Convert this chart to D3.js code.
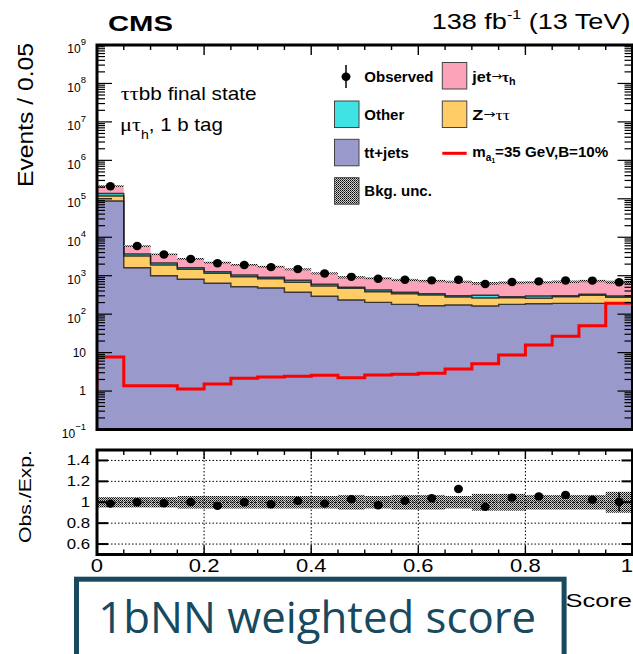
<!DOCTYPE html>
<html><head><meta charset="utf-8">
<script src="https://cdn.jsdelivr.net/npm/d3@7"></script>
<style>
html,body{margin:0;padding:0;background:#fff;}
svg{display:block;font-family:"Liberation Sans",Arial,Helvetica,sans-serif;}
</style></head>
<body><svg id="c" width="633" height="654"></svg>
<script>
// ---- data: 20 bins of the 1bNN score, width 0.05 ----
const binLow = [0.00,0.05,0.10,0.15,0.20,0.25,0.30,0.35,0.40,0.45,0.50,0.55,0.60,0.65,0.70,0.75,0.80,0.85,0.90,0.95];
const binWidth = 0.05;
const ttJets  = [87700,1615,1000,806,634,518,479,370,291,233,203,180,166,173,163,180,187,191,191,191];
const zTauTau = [30600,1636,897,661,520,424,351,303,249,237,181,160,149,106,100,88,71,93,118,83];
const otherBkg= [19100,416,243,148,117,100,84,86,57,29,41,30,25,23,46,16,39,18,19,23];
const jetFakes= [77900,2251,1463,1103,907,855,789,708,557,409,430,403,388,396,325,374,376,396,400,376];
const observed= [212500,5918,3567,2726,2102,1897,1671,1486,1139,934,830,783,756,787,606,687,711,747,746,675];
const bkgUnc  = [0.05,0.05,0.05,0.06,0.06,0.06,0.06,0.06,0.06,0.07,0.06,0.07,0.07,0.06,0.08,0.08,0.07,0.07,0.07,0.10];
const ratioErr= [0.02,0.02,0.02,0.02,0.02,0.02,0.02,0.02,0.02,0.02,0.02,0.02,0.02,0.03,0.02,0.02,0.02,0.02,0.02,0.09];
const signal  = [7.7,1.38,1.38,1.13,1.52,2.15,2.32,2.42,2.57,2.22,2.61,2.72,2.9,3.74,5.14,8.7,15.8,26.5,50,191];
const signalStart = 1.0;
const yExponents = [-1,0,1,2,3,4,5,6,7,8,9];
const ratioTicks = [0.6,0.8,1.0,1.2,1.4];
const xTicks = [0,0.2,0.4,0.6,0.8,1];
const xTickLabels = ["0","0.2","0.4","0.6","0.8","1"];

const colors = {tt:"#9999cc", z:"#ffcc66", other:"#3fe3e3", jet:"#fca3b9", sig:"#ff0000"};

const svg = d3.select("#c");
const X0 = 97, X1 = 632.5;
const x  = d3.scaleLinear().domain([0,1]).range([X0,X1]);
const y  = d3.scaleLog().domain([0.1,1e9]).range([429.5,45]);
const yr = d3.scaleLinear().domain([0.5,1.5]).range([554.5,450]);

// fill pattern for the background uncertainty
const defs = svg.append("defs");
const pat = defs.append("pattern").attr("id","unc").attr("width",2).attr("height",2).attr("patternUnits","userSpaceOnUse");
pat.append("rect").attr("width",2).attr("height",2).attr("fill","#d0d0d0");
pat.append("rect").attr("x",0).attr("y",0).attr("width",1).attr("height",1).attr("fill","#000");
pat.append("rect").attr("x",1).attr("y",1).attr("width",1).attr("height",1).attr("fill","#444");
defs.append("clipPath").attr("id","mainClip").append("rect").attr("x",X0).attr("y",45).attr("width",X1-X0).attr("height",429.5-45);

// ---- stacked backgrounds ----
const rows = binLow.map((b,i)=>({b, tt:ttJets[i], z:zTauTau[i], other:otherBkg[i], jet:jetFakes[i]}));
const keys = ["tt","z","other","jet"];
const stacked = d3.stack().keys(keys)(rows);
const totals = rows.map(r=>r.tt+r.z+r.other+r.jet);

function stepPoints(vals){
  const pts=[];
  vals.forEach((v,i)=>{ pts.push({x:x(binLow[i]),v}); pts.push({x:x(binLow[i]+binWidth),v}); });
  return pts;
}
const yc = v => y(Math.max(v,0.1));

const gMain = svg.append("g").attr("clip-path","url(#mainClip)");
stacked.forEach((layer,li)=>{
  const pts=[];
  layer.forEach((d,i)=>{
    pts.push({x:x(binLow[i]),lo:d[0],hi:d[1]});
    pts.push({x:x(binLow[i]+binWidth),lo:d[0],hi:d[1]});
  });
  gMain.append("path")
    .attr("d", d3.area().x(p=>p.x).y0(p=>yc(p.lo)).y1(p=>yc(p.hi))(pts))
    .attr("fill", colors[keys[li]]);
});
stacked.forEach((layer,li)=>{
  if(li===3) return;
  gMain.append("path")
    .attr("d", d3.line().x(p=>p.x).y(p=>yc(p.v))(stepPoints(layer.map(d=>d[1]))))
    .attr("fill","none").attr("stroke","#1e1e1e").attr("stroke-width",1.4).attr("stroke-opacity",0.85);
});

// uncertainty band on top of the stack
gMain.selectAll("rect.unc").data(totals).join("rect").attr("class","unc")
  .attr("x",(d,i)=>x(binLow[i])).attr("width",x(binWidth)-x(0))
  .attr("y",(d,i)=>y(d*(1+bkgUnc[i]))).attr("height",(d,i)=>y(d*(1-bkgUnc[i]))-y(d*(1+bkgUnc[i])))
  .attr("fill","url(#unc)");

// signal hypothesis
const sigPts = [{x:x(0),v:signalStart}].concat(stepPoints(signal));
gMain.append("path")
  .attr("d", d3.line().x(p=>p.x).y(p=>y(p.v))(sigPts))
  .attr("fill","none").attr("stroke",colors.sig).attr("stroke-width",3);

// observed data
svg.append("g").selectAll("ellipse").data(observed).join("ellipse")
  .attr("cx",(d,i)=>x(binLow[i]+binWidth/2)).attr("cy",d=>y(d))
  .attr("rx",4.5).attr("ry",4.2).attr("fill","#000");

// ---- main frame and ticks ----
const ax = svg.append("g").attr("stroke","#000").attr("fill","none");
yExponents.forEach(e=>{
  for(let m=1;m<=9;m++){
    const v=m*Math.pow(10,e);
    if(v<0.1||v>1e9) continue;
    const L = m===1?15:8, yy=y(v);
    ax.append("line").attr("x1",X0).attr("x2",X0+L).attr("y1",yy).attr("y2",yy).attr("stroke-width",1.2);
    ax.append("line").attr("x1",X1).attr("x2",X1-L).attr("y1",yy).attr("y2",yy).attr("stroke-width",1.2);
  }
});
for(let k=0;k<=20;k++){
  const xx=x(k*0.05), L=k%4===0?10:5;
  ax.append("line").attr("x1",xx).attr("x2",xx).attr("y1",45).attr("y2",45+L).attr("stroke-width",1.4);
}
ax.append("rect").attr("x",X0).attr("y",45).attr("width",X1-X0).attr("height",429.5-45).attr("stroke-width",3);

// y tick labels (10^n)
const yl = svg.append("g").attr("font-size",12).attr("text-anchor","end").attr("fill","#000");
yExponents.forEach(e=>{
  const yy=y(Math.pow(10,e));
  if(e===0||e===1){
    yl.append("text").attr("x",86).attr("y",yy+4.3).text(e===0?"1":"10");
  } else {
    const t=yl.append("text").attr("x",86).attr("y",yy+8.4);
    t.append("tspan").text("10");
    t.append("tspan").attr("font-size",9.5).attr("dy",-8.4).text(e<0?"\u2212"+(-e):String(e));
  }
});

// ---- ratio panel ----
const gR = svg.append("g");
gR.selectAll("rect.band").data(bkgUnc).join("rect").attr("class","band")
  .attr("x",(d,i)=>x(binLow[i])).attr("width",x(binWidth)-x(0))
  .attr("y",d=>yr(1+d)).attr("height",d=>yr(1-d)-yr(1+d)).attr("fill","url(#unc)");
const grid = gR.append("g").attr("stroke","#000").attr("stroke-width",1).attr("stroke-dasharray","1.5,2");
ratioTicks.forEach(t=>grid.append("line").attr("x1",X0).attr("x2",X1).attr("y1",yr(t)).attr("y2",yr(t)));
xTicks.slice(1,-1).forEach(t=>grid.append("line").attr("x1",x(t)).attr("x2",x(t)).attr("y1",450).attr("y2",554.5));

const ratio = observed.map((o,i)=>o/totals[i]);
gR.selectAll("line.err").data(ratio).join("line").attr("class","err")
  .attr("x1",(d,i)=>x(binLow[i]+binWidth/2)).attr("x2",(d,i)=>x(binLow[i]+binWidth/2))
  .attr("y1",(d,i)=>yr(d+ratioErr[i])).attr("y2",(d,i)=>yr(d-ratioErr[i]))
  .attr("stroke","#000").attr("stroke-width",1.5);
gR.selectAll("ellipse").data(ratio).join("ellipse")
  .attr("cx",(d,i)=>x(binLow[i]+binWidth/2)).attr("cy",d=>yr(d))
  .attr("rx",4.5).attr("ry",4.2).attr("fill","#000");

const axR = svg.append("g").attr("stroke","#000").attr("fill","none");
for(let k=0;k<=20;k++){
  const xx=x(k*0.05), L=k%4===0?9:5;
  axR.append("line").attr("x1",xx).attr("x2",xx).attr("y1",450).attr("y2",450+L).attr("stroke-width",1.4);
  axR.append("line").attr("x1",xx).attr("x2",xx).attr("y1",554.5).attr("y2",554.5-L).attr("stroke-width",1.4);
}
ratioTicks.forEach(t=>{
  axR.append("line").attr("x1",X0).attr("x2",X0+11).attr("y1",yr(t)).attr("y2",yr(t)).attr("stroke-width",2);
  axR.append("line").attr("x1",X1).attr("x2",X1-11).attr("y1",yr(t)).attr("y2",yr(t)).attr("stroke-width",2);
});
axR.append("rect").attr("x",X0).attr("y",450).attr("width",X1-X0).attr("height",104.5).attr("stroke-width",3);

function stretch(t,k){
  const ax0=+t.attr("x")||0;
  t.attr("transform",`translate(${ax0},0) scale(${k},1) translate(${-ax0},0)`);
}
function fitX(t,w){
  const bw=t.node().getBBox().width;
  stretch(t,w/bw);
}

ratioTicks.forEach(t=>{
  const s=svg.append("text").attr("x",90).attr("y",yr(t)+5).attr("text-anchor","end").attr("font-size",14)
    .text(t===1?"1":d3.format(".1f")(t));
  stretch(s,1.2);
});
xTicks.forEach((t,i)=>{
  const last = i===xTicks.length-1;
  const s=svg.append("text").attr("x",last?633:x(t)).attr("y",571.7)
    .attr("text-anchor",last?"end":"middle").attr("font-size",18.5).text(xTickLabels[i]);
  stretch(s,1.19);
});

// axis titles
const xt = svg.append("text").attr("x",632).attr("y",607).attr("text-anchor","end").attr("font-size",19).text("Score");
stretch(xt,1.34);
const gy = svg.append("g").attr("transform","translate(33,43) rotate(-90)");
const yt = gy.append("text").attr("x",0).attr("y",0).attr("text-anchor","end").attr("font-size",22).text("Events / 0.05");
fitX(yt,144);
const gy2 = svg.append("g").attr("transform","translate(31.4,450) rotate(-90)");
const yt2 = gy2.append("text").attr("x",0).attr("y",0).attr("text-anchor","end").attr("font-size",17).text("Obs./Exp.");
fitX(yt2,93);

// header
const cms = svg.append("text").attr("x",108).attr("y",30.7).attr("font-size",22).attr("font-weight","bold").text("CMS");
fitX(cms,65);
const lumi = svg.append("text").attr("x",630.5).attr("y",29.3).attr("text-anchor","end").attr("font-size",22);
lumi.append("tspan").text("138 fb");
lumi.append("tspan").attr("font-size",13).attr("dy",-10).text("-1");
lumi.append("tspan").attr("dy",10).text(" (13 TeV)");
fitX(lumi,199);

// channel labels
const serif = '"Liberation Serif","DejaVu Serif",serif';
const c1 = svg.append("text").attr("x",120.7).attr("y",100).attr("font-size",17.5);
c1.append("tspan").attr("font-family",serif).attr("font-size",19).text("\u03c4\u03c4");
c1.append("tspan").text("bb final state");
fitX(c1,136);
const c2 = svg.append("text").attr("x",120).attr("y",130.7).attr("font-size",17.5);
c2.append("tspan").attr("font-family",serif).attr("font-size",19).text("\u03bc\u03c4");
c2.append("tspan").attr("font-size",12).attr("dy",8).text("h");
c2.append("tspan").attr("dy",-8).text(", 1 b tag");
fitX(c2,103);

// ---- legend ----
const arrowFont = '"DejaVu Sans",sans-serif';
const lg = svg.append("g").attr("font-size",15).attr("font-weight","bold");
// observed
lg.append("line").attr("x1",346).attr("x2",346).attr("y1",65).attr("y2",88).attr("stroke","#000").attr("stroke-width",1.5);
lg.append("ellipse").attr("cx",346).attr("cy",76.7).attr("rx",4.5).attr("ry",4.2).attr("fill","#000");
lg.append("text").attr("x",364.3).attr("y",82).text("Observed");
function box(x0,y0,fill){
  lg.append("rect").attr("x",x0).attr("y",y0).attr("width",24.5).attr("height",26.5)
    .attr("fill",fill).attr("stroke","#444").attr("stroke-width",1);
}
box(442.3,62.5,colors.jet);
const tj = lg.append("text").attr("x",472.3).attr("y",82);
tj.append("tspan").text("jet");
tj.append("tspan").attr("font-size",12).attr("dy",-1.5).attr("font-weight","normal").attr("font-family",arrowFont).text("\u2192");
tj.append("tspan").attr("font-size",14).attr("dy",1.5).attr("font-family",serif).text("\u03c4");
tj.append("tspan").attr("font-size",10).attr("dy",3).text("h");
fitX(tj,44.3);

box(334.5,101,colors.other);
lg.append("text").attr("x",364.3).attr("y",120).text("Other");
box(442.3,101,colors.z);
const tz = lg.append("text").attr("x",472.3).attr("y",120);
tz.append("tspan").text("Z");
tz.append("tspan").attr("font-size",12).attr("dy",-1.5).attr("font-weight","normal").attr("font-family",arrowFont).text("\u2192");
tz.append("tspan").attr("font-size",15).attr("dy",1.5).attr("font-weight","normal").attr("font-family",serif).text("\u03c4\u03c4");
fitX(tz,37.7);

box(334.5,139.3,colors.tt);
lg.append("text").attr("x",364.3).attr("y",157.5).text("tt+jets");
lg.append("line").attr("x1",442.3).attr("x2",466.7).attr("y1",153.3).attr("y2",153.3).attr("stroke",colors.sig).attr("stroke-width",3);
const tm = lg.append("text").attr("x",472.3).attr("y",157.5);
tm.append("tspan").text("m");
tm.append("tspan").attr("font-size",10).attr("dy",4).text("a");
tm.append("tspan").attr("font-size",6.5).attr("dy",2).text("1");
tm.append("tspan").attr("dy",-6).text("=35 GeV,B=10%");
fitX(tm,136);

box(334.5,177.7,"url(#unc)");
lg.append("text").attr("x",364.3).attr("y",196).text("Bkg. unc.");

// ---- caption box ----
svg.append("rect").attr("x",76.5).attr("y",579.2).attr("width",487.6).attr("height",90)
  .attr("fill","#fff").attr("stroke","#17495f").attr("stroke-width",5);
const cap = svg.append("text").attr("x",98.3).attr("y",633.3).attr("font-size",43)
  .attr("font-family",'"Open Sans","Noto Sans",sans-serif').attr("fill","#17495f").text("1bNN weighted score");
fitX(cap,438);
</script>
</body></html>
